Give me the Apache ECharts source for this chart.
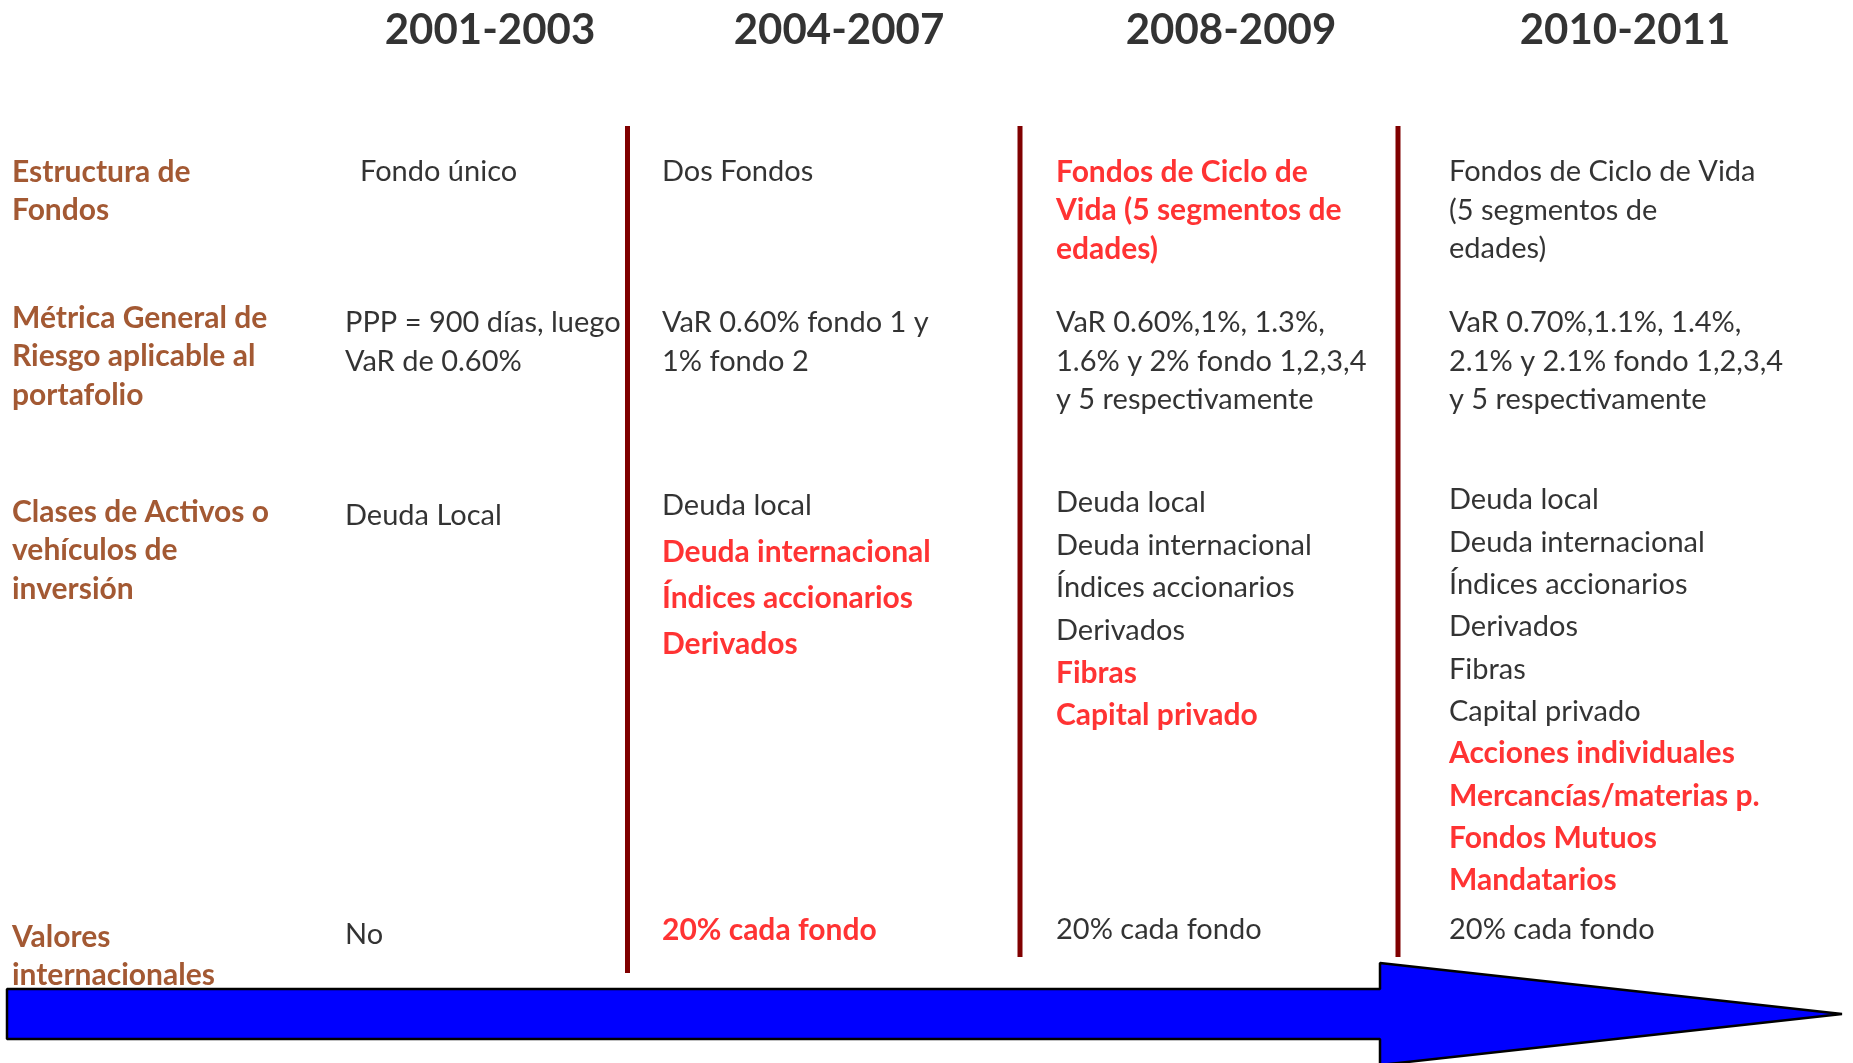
<!DOCTYPE html>
<html lang="es">
<head>
<meta charset="utf-8">
<title>Evolución del régimen de inversión</title>
<script src="https://cdn.jsdelivr.net/npm/echarts@6/dist/echarts.min.js"></script>
<style>
  html, body { margin: 0; padding: 0; background: #fff; }
  #chart { width: 1853px; height: 1063px; }
</style>
</head>
<body>
<div id="chart"></div>
<script>
// -----------------------------------------------------------------------------
// Data — one small array per block of the slide.
// -----------------------------------------------------------------------------
const periods = ["2001-2003", "2004-2007", "2008-2009", "2010-2011"];

const rowTitles = [
  ["Estructura de", "Fondos"],
  ["Métrica General de", "Riesgo aplicable al", "portafolio"],
  ["Clases de Activos o", "vehículos de", "inversión"],
  ["Valores", "internacionales"],
];

const estructura = [
  ["Fondo único"],
  ["Dos Fondos"],
  ["Fondos de Ciclo de", "Vida (5 segmentos de", "edades)"],
  ["Fondos de Ciclo de Vida", "(5 segmentos de", "edades)"],
];
const estructuraNueva = [false, false, true, false];

const metrica = [
  ["PPP = 900 días, luego", "VaR de 0.60%"],
  ["VaR 0.60% fondo 1 y", "1% fondo 2"],
  ["VaR 0.60%,1%, 1.3%,", "1.6% y 2% fondo 1,2,3,4", "y 5 respectivamente"],
  ["VaR 0.70%,1.1%, 1.4%,", "2.1% y 2.1% fondo 1,2,3,4", "y 5 respectivamente"],
];

const activos = [
  ["Deuda Local"],
  ["Deuda local", "Deuda internacional", "Índices accionarios", "Derivados"],
  ["Deuda local", "Deuda internacional", "Índices accionarios", "Derivados",
   "Fibras", "Capital privado"],
  ["Deuda local", "Deuda internacional", "Índices accionarios", "Derivados",
   "Fibras", "Capital privado", "Acciones individuales",
   "Mercancías/materias p.", "Fondos Mutuos", "Mandatarios"],
];
// index of the first asset class that is new in each period (red)
const activosNuevosDesde = [1, 1, 4, 6];

const valores = ["No", "20% cada fondo", "20% cada fondo", "20% cada fondo"];
const valoresNuevo = [false, true, false, false];

// -----------------------------------------------------------------------------
// Layout in slide units (axis runs 0..1853 across, 0..1063 down).
// -----------------------------------------------------------------------------
const SLIDE = { w: 1853, h: 1063 };
const TITLE_X = 12;
const COL_X = [345, 662, 1056, 1449];
const ESTR_INDENT = [15, 0, 0, 0];
const HEAD_X = [490, 839, 1231, 1625];
const HEAD_Y = 30;
const LINE = 38.5;
const TITLE_Y = [172, 318, 512, 937];
const ESTR_Y = 172;
const METR_Y = 323;
const ACT_Y = [516, 506, 503, 500];
const ACT_STEP = [0, 46, 42.5, 42.3];
const VAL_Y = [935, 930, 930, 930];
const DIVIDERS = [
  { x: 627.5, top: 126, bottom: 973 },
  { x: 1020, top: 126, bottom: 957 },
  { x: 1398, top: 126, bottom: 957 },
];
const ARROW = [
  [7, 989], [1380, 989], [1380, 963], [1842, 1014],
  [1380, 1065], [1380, 1039], [7, 1039],
];

const FONT = "Lato, 'Open Sans', sans-serif";
const BODY_SIZE = 29;
const BOLD_SIZE = 30;
const HEAD_SIZE = 42;
const C = { text: "#000000", title: "#8C3000", isNew: "#FF0000", rule: "#800000", arrow: "#0000FF" };

// -----------------------------------------------------------------------------
// Build label points
// -----------------------------------------------------------------------------
function item(text, x, y, isNew) {
  return {
    name: text,
    value: [x, y],
    label: isNew ? { color: C.isNew, fontWeight: "bold", fontSize: BOLD_SIZE } : {},
  };
}

const bodyItems = [];
const titleItems = [];

rowTitles.forEach((lines, r) => {
  lines.forEach((t, i) => titleItems.push({ name: t, value: [TITLE_X, TITLE_Y[r] + i * LINE] }));
});

periods.forEach((_, c) => {
  estructura[c].forEach((t, i) =>
    bodyItems.push(item(t, COL_X[c] + ESTR_INDENT[c], ESTR_Y + i * LINE, estructuraNueva[c])));
  metrica[c].forEach((t, i) =>
    bodyItems.push(item(t, COL_X[c], METR_Y + i * LINE, false)));
  activos[c].forEach((t, i) =>
    bodyItems.push(item(t, COL_X[c], ACT_Y[c] + i * ACT_STEP[c], i >= activosNuevosDesde[c])));
  bodyItems.push(item(valores[c], COL_X[c], VAL_Y[c], valoresNuevo[c]));
});

const headItems = periods.map((p, c) => ({ name: p, value: [HEAD_X[c], HEAD_Y] }));

const textSeries = (data, label) => ({
  type: "scatter",
  data,
  symbolSize: 0,
  silent: true,
  z: 5,
  label: Object.assign(
    {
      show: true,
      formatter: (p) => p.name,
      fontFamily: FONT,
      fontSize: BODY_SIZE,
      color: C.text,
      position: "right",
      distance: 0,
    },
    label,
  ),
});

const chart = echarts.init(document.getElementById("chart"), null, { renderer: "canvas" });

chart.setOption({
  backgroundColor: "#ffffff",
  animation: false,
  grid: { left: 0, right: 0, top: 0, bottom: 0 },
  xAxis: { type: "value", min: 0, max: SLIDE.w, show: false },
  yAxis: { type: "value", min: 0, max: SLIDE.h, inverse: true, show: false },
  series: [
    // blue timeline arrow
    {
      type: "custom",
      data: [0],
      silent: true,
      z: 1,
      renderItem: (params, api) => ({
        type: "polygon",
        shape: { points: ARROW.map((p) => api.coord(p)) },
        style: { fill: C.arrow, stroke: "#000000", lineWidth: 2.5, lineJoin: "bevel" },
      }),
    },
    // period dividers
    ...DIVIDERS.map((d) => ({
      type: "line",
      data: [[d.x, d.top], [d.x, d.bottom]],
      symbol: "none",
      silent: true,
      z: 2,
      lineStyle: { color: C.rule, width: 5 },
    })),
    textSeries(headItems, { position: "inside", fontSize: HEAD_SIZE, fontWeight: "bold" }),
    textSeries(titleItems, { color: C.title, fontWeight: "bold", fontSize: BOLD_SIZE }),
    textSeries(bodyItems, {}),
  ],
});

window.addEventListener("resize", () => chart.resize());
</script>
</body>
</html>
